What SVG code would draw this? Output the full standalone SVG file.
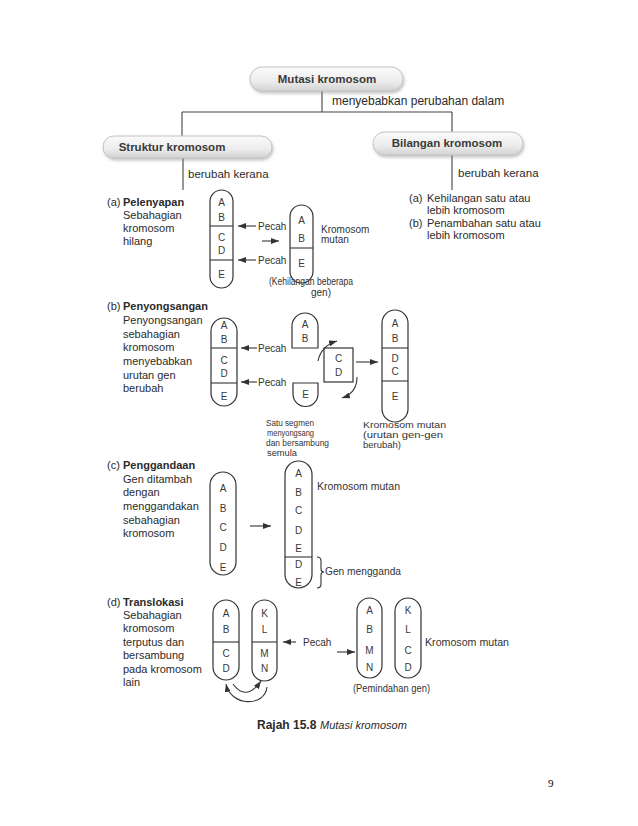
<svg xmlns="http://www.w3.org/2000/svg" width="638" height="826" viewBox="0 0 638 826">
<style>
.desc{font-family:"Liberation Sans",Arial,sans-serif;font-size:11px;fill:#2b2b2b}
.bold{font-weight:bold}
.pilltxt{font-family:"Liberation Sans",Arial,sans-serif;font-size:11.5px;font-weight:bold;fill:#3a3a3a;text-anchor:middle}
.lbl{font-family:"Liberation Sans",Arial,sans-serif;font-size:10px;fill:#333}
.sm{font-size:8.5px}
.ltr{font-family:"Liberation Sans",Arial,sans-serif;font-size:10px;fill:#3a3a3a;text-anchor:middle}
.chr{fill:none;stroke:#333;stroke-width:1.2}
.ln{fill:none;stroke:#333;stroke-width:1.1}
.tree{fill:none;stroke:#444;stroke-width:1.1}
.arr{fill:none;stroke:#333;stroke-width:1.1;marker-end:url(#ah)}
.pill{fill:url(#pg);stroke:#c4c4c4;stroke-width:1}
</style>
<defs>
<linearGradient id="pg" x1="0" y1="0" x2="0" y2="1">
<stop offset="0" stop-color="#fbfbfb"/>
<stop offset="0.6" stop-color="#ececec"/>
<stop offset="1" stop-color="#d2d2d2"/>
</linearGradient>
<filter id="sh" x="-10%" y="-30%" width="120%" height="170%">
<feDropShadow dx="1" dy="2" stdDeviation="1.5" flood-color="#888" flood-opacity="0.5"/>
</filter>
<marker id="ah" viewBox="0 0 8 6" refX="8" refY="3" markerWidth="8" markerHeight="6" markerUnits="userSpaceOnUse" orient="auto">
<path d="M0,0 L8,3 L0,6 z" fill="#333"/>
</marker>
</defs>
<rect width="638" height="826" fill="#ffffff"/>

<g id="connectors">
<path class="tree" d="M322,91 V112 M182,112 H452 M182,112 V136 M452,112 V132 M183,158 V190 M452,155 V190"/>
<line class="arr" x1="256" y1="226" x2="238" y2="226"/>
<line class="arr" x1="256" y1="260" x2="238" y2="260"/>
<line class="arr" x1="262" y1="241" x2="279" y2="241"/>
<line class="arr" x1="257" y1="348" x2="241" y2="348"/>
<line class="arr" x1="257" y1="382" x2="241" y2="382"/>
<path class="arr" d="M318,361 Q321,346 337,341"/>
<path class="arr" d="M357,377 Q357,393 342,398"/>
<line class="arr" x1="356" y1="362" x2="378" y2="362"/>
<line class="arr" x1="250" y1="526" x2="271" y2="526"/>
<path class="ln" d="M317,557 Q321,557 321,561 V569 Q321,572 324,572 Q321,572 321,575 V584 Q321,588 317,588"/>
<line class="arr" x1="296" y1="642" x2="283" y2="642"/>
<line class="arr" x1="337" y1="652" x2="355" y2="652"/>
<path class="arr" d="M233,684 Q246,702 261,681"/>
<path class="arr" d="M267,687 C265,707 231,707 226,684"/>
</g>

<g id="node-mutasi">
<rect class="pill" filter="url(#sh)" x="250" y="67" width="153" height="24" rx="12"/>
<text class="pilltxt" x="327" y="83">Mutasi kromosom</text>
</g>
<text class="desc" x="332" y="105" style="font-size:12px">menyebabkan perubahan dalam</text>

<g id="node-struktur">
<rect class="pill" filter="url(#sh)" x="103" y="136" width="169" height="22" rx="11"/>
<text class="pilltxt" x="172" y="151">Struktur kromosom</text>
</g>
<g id="node-bilangan">
<rect class="pill" filter="url(#sh)" x="373" y="132" width="150" height="23" rx="11.5"/>
<text class="pilltxt" x="447" y="147">Bilangan kromosom</text>
</g>
<text class="desc" x="188" y="178" style="font-size:11.5px">berubah kerana</text>
<text class="desc" x="458" y="177" style="font-size:11.5px">berubah kerana</text>

<g id="bilangan-list">
<text class="desc" x="409" y="202">(a)</text>
<text class="desc" x="427" y="202">Kehilangan satu atau</text>
<text class="desc" x="427" y="214">lebih kromosom</text>
<text class="desc" x="409" y="227">(b)</text>
<text class="desc" x="427" y="227">Penambahan satu atau</text>
<text class="desc" x="427" y="239">lebih kromosom</text>
</g>

<g id="node-a-desc">
<text class="desc" x="107" y="206">(a)</text>
<text class="desc bold" x="123" y="206">Pelenyapan</text>
<text class="desc" x="123" y="219">Sebahagian</text>
<text class="desc" x="123" y="232">kromosom</text>
<text class="desc" x="123" y="245">hilang</text>
</g>
<g id="node-a-chrom">
<rect class="chr" x="210" y="190" width="23" height="98" rx="11.5"/>
<line class="ln" x1="210" y1="226" x2="233" y2="226"/>
<line class="ln" x1="210" y1="260" x2="233" y2="260"/>
<text class="ltr" x="221.5" y="206">A</text>
<text class="ltr" x="221.5" y="221">B</text>
<text class="ltr" x="221.5" y="241">C</text>
<text class="ltr" x="221.5" y="254">D</text>
<text class="ltr" x="221.5" y="278">E</text>
</g>
<text class="lbl" x="258" y="230">Pecah</text>
<text class="lbl" x="258" y="264">Pecah</text>
<g id="node-a-mutant">
<rect class="chr" x="290" y="205" width="23" height="78" rx="11.5"/>
<line class="ln" x1="290" y1="248" x2="313" y2="248"/>
<text class="ltr" x="301.5" y="224">A</text>
<text class="ltr" x="301.5" y="242">B</text>
<text class="ltr" x="301.5" y="267">E</text>
</g>
<text class="lbl" x="321" y="233">Kromosom</text>
<text class="lbl" x="321" y="243">mutan</text>
<text class="lbl" x="269" y="285" textLength="84" lengthAdjust="spacingAndGlyphs">(Kehilangan beberapa</text>
<text class="lbl" x="311" y="296">gen)</text>

<g id="node-b-desc">
<text class="desc" x="107" y="310">(b)</text>
<text class="desc bold" x="123" y="310">Penyongsangan</text>
<text class="desc" x="123" y="324">Penyongsangan</text>
<text class="desc" x="123" y="338">sebahagian</text>
<text class="desc" x="123" y="351">kromosom</text>
<text class="desc" x="123" y="365">menyebabkan</text>
<text class="desc" x="123" y="379">urutan gen</text>
<text class="desc" x="123" y="392">berubah</text>
</g>
<g id="node-b-chrom">
<rect class="chr" x="211" y="318" width="26" height="88" rx="13"/>
<line class="ln" x1="211" y1="348" x2="237" y2="348"/>
<line class="ln" x1="211" y1="383" x2="237" y2="383"/>
<text class="ltr" x="224" y="329">A</text>
<text class="ltr" x="224" y="343">B</text>
<text class="ltr" x="224" y="364">C</text>
<text class="ltr" x="224" y="377">D</text>
<text class="ltr" x="224" y="400">E</text>
</g>
<text class="lbl" x="258" y="352">Pecah</text>
<text class="lbl" x="258" y="386">Pecah</text>
<g id="node-b-AB">
<path class="chr" d="M292,348 V326 A13,13 0 0 1 318,326 V348 Z"/>
<text class="ltr" x="305" y="328">A</text>
<text class="ltr" x="305" y="342">B</text>
</g>
<g id="node-b-CD">
<rect class="chr" x="324" y="348" width="29" height="34"/>
<text class="ltr" x="338.5" y="362">C</text>
<text class="ltr" x="338.5" y="376">D</text>
</g>
<g id="node-b-E">
<path class="chr" d="M293,383 H318 V394 A12.5,12.5 0 0 1 293,394 Z"/>
<text class="ltr" x="305.5" y="398">E</text>
</g>
<g id="node-b-mutant">
<rect class="chr" x="382" y="310" width="26" height="112" rx="13"/>
<line class="ln" x1="382" y1="348" x2="408" y2="348"/>
<line class="ln" x1="382" y1="381" x2="408" y2="381"/>
<text class="ltr" x="395" y="327">A</text>
<text class="ltr" x="395" y="342">B</text>
<text class="ltr" x="395" y="362">D</text>
<text class="ltr" x="395" y="375">C</text>
<text class="ltr" x="395" y="400">E</text>
</g>
<text class="lbl sm" x="266" y="426" textLength="48" lengthAdjust="spacingAndGlyphs">Satu segmen</text>
<text class="lbl sm" x="267" y="436" textLength="47" lengthAdjust="spacingAndGlyphs">menyongsang</text>
<text class="lbl sm" x="266" y="446" textLength="63" lengthAdjust="spacingAndGlyphs">dan bersambung</text>
<text class="lbl sm" x="267" y="456" textLength="30" lengthAdjust="spacingAndGlyphs">semula</text>
<text class="lbl sm" x="363" y="428" textLength="83" lengthAdjust="spacingAndGlyphs">Kromosom mutan</text>
<text class="lbl sm" x="363" y="438" textLength="80" lengthAdjust="spacingAndGlyphs">(urutan gen-gen</text>
<text class="lbl sm" x="363" y="448" textLength="38" lengthAdjust="spacingAndGlyphs">berubah)</text>

<g id="node-c-desc">
<text class="desc" x="107" y="469">(c)</text>
<text class="desc bold" x="123" y="469">Penggandaan</text>
<text class="desc" x="123" y="483">Gen ditambah</text>
<text class="desc" x="123" y="496">dengan</text>
<text class="desc" x="123" y="510">menggandakan</text>
<text class="desc" x="123" y="524">sebahagian</text>
<text class="desc" x="123" y="537">kromosom</text>
</g>
<g id="node-c-chrom">
<rect class="chr" x="210" y="472" width="26" height="103" rx="13"/>
<text class="ltr" x="223" y="492">A</text>
<text class="ltr" x="223" y="512">B</text>
<text class="ltr" x="223" y="531">C</text>
<text class="ltr" x="223" y="551">D</text>
<text class="ltr" x="223" y="571">E</text>
</g>
<g id="node-c-mutant">
<rect class="chr" x="285" y="461" width="27" height="127" rx="13.5"/>
<line class="ln" x1="285" y1="557" x2="312" y2="557"/>
<text class="ltr" x="298.5" y="477">A</text>
<text class="ltr" x="298.5" y="496">B</text>
<text class="ltr" x="298.5" y="514">C</text>
<text class="ltr" x="298.5" y="534">D</text>
<text class="ltr" x="298.5" y="552">E</text>
<text class="ltr" x="298.5" y="568">D</text>
<text class="ltr" x="298.5" y="586">E</text>
</g>
<text class="lbl" x="317" y="490" textLength="83" lengthAdjust="spacingAndGlyphs">Kromosom mutan</text>
<text class="lbl" x="325" y="575" textLength="76" lengthAdjust="spacingAndGlyphs">Gen mengganda</text>

<g id="node-d-desc">
<text class="desc" x="107" y="606">(d)</text>
<text class="desc bold" x="123" y="606">Translokasi</text>
<text class="desc" x="123" y="619">Sebahagian</text>
<text class="desc" x="123" y="632">kromosom</text>
<text class="desc" x="123" y="646">terputus dan</text>
<text class="desc" x="123" y="659">bersambung</text>
<text class="desc" x="123" y="673">pada kromosom</text>
<text class="desc" x="123" y="686">lain</text>
</g>
<g id="node-d-chrom1">
<rect class="chr" x="213" y="600" width="26" height="80" rx="13"/>
<line class="ln" x1="213" y1="642" x2="239" y2="642"/>
<text class="ltr" x="226" y="617">A</text>
<text class="ltr" x="226" y="633">B</text>
<text class="ltr" x="226" y="657">C</text>
<text class="ltr" x="226" y="672">D</text>
</g>
<g id="node-d-chrom2">
<rect class="chr" x="252" y="600" width="25" height="81" rx="12.5"/>
<line class="ln" x1="252" y1="642" x2="277" y2="642"/>
<text class="ltr" x="264.5" y="617">K</text>
<text class="ltr" x="264.5" y="633">L</text>
<text class="ltr" x="264.5" y="657">M</text>
<text class="ltr" x="264.5" y="672">N</text>
</g>
<text class="lbl" x="303" y="646">Pecah</text>
<g id="node-d-mutant1">
<rect class="chr" x="357" y="598" width="25" height="80" rx="12.5"/>
<text class="ltr" x="369.5" y="614">A</text>
<text class="ltr" x="369.5" y="633">B</text>
<text class="ltr" x="369.5" y="654">M</text>
<text class="ltr" x="369.5" y="671">N</text>
</g>
<g id="node-d-mutant2">
<rect class="chr" x="395" y="598" width="26" height="80" rx="13"/>
<text class="ltr" x="408" y="614">K</text>
<text class="ltr" x="408" y="633">L</text>
<text class="ltr" x="408" y="654">C</text>
<text class="ltr" x="408" y="671">D</text>
</g>
<text class="lbl" x="425" y="646" textLength="84" lengthAdjust="spacingAndGlyphs">Kromosom mutan</text>
<text class="lbl" x="353" y="692" textLength="77" lengthAdjust="spacingAndGlyphs">(Pemindahan gen)</text>

<g id="caption">
<text class="desc bold" x="257" y="729" style="font-size:12px">Rajah 15.8</text>
<text class="desc" x="320" y="729" style="font-size:11px;font-style:italic">Mutasi kromosom</text>
</g>
<text x="548" y="787" style="font-family:'Liberation Serif',serif;font-size:11px;fill:#000">9</text>
</svg>
